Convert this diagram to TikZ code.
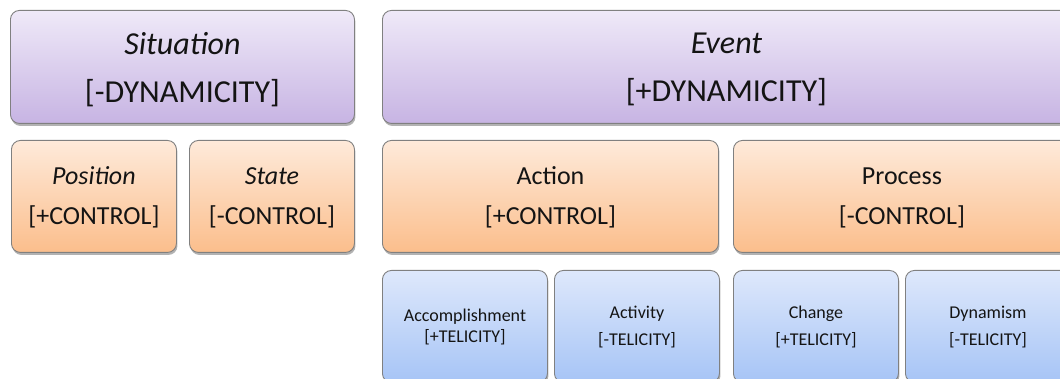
\documentclass[tikz,border=0pt]{standalone}
\usepackage{fontspec}
\setmainfont{Carlito}
\usetikzlibrary{shadows}
\definecolor{purT}{RGB}{239,233,248}
\definecolor{purB}{RGB}{199,180,227}
\definecolor{oraT}{RGB}{254,234,218}
\definecolor{oraB}{RGB}{251,190,140}
\definecolor{bluT}{RGB}{222,232,251}
\definecolor{bluB}{RGB}{166,196,246}
\definecolor{boxline}{RGB}{128,128,128}
\definecolor{txt}{RGB}{20,20,20}
\begin{document}
\begin{tikzpicture}[x=1pt,y=-1pt,
  box/.style={draw=boxline, line width=0.9pt, rounded corners=9pt, anchor=north west,
    inner sep=0pt,
    drop shadow={shadow xshift=1pt, shadow yshift=-2.5pt, opacity=0.3, fill=black}},
  lbl/.style={inner sep=0pt, align=center, text=txt},
  purbox/.style={box, top color=purT, bottom color=purB},
  orabox/.style={box, top color=oraT, bottom color=oraB},
  blubox/.style={box, top color=bluT, bottom color=bluB, minimum width=165pt, minimum height=112pt},
  purtxt/.style={lbl, font=\fontsize{32}{48}\selectfont},
  oratxt/.style={lbl, font=\fontsize{26}{40}\selectfont},
  blutxt/.style={lbl, font=\fontsize{18}{27}\selectfont},
]
\fill[white] (0,0) rectangle (1060,379);
\useasboundingbox (0,0) rectangle (1060,379);
\node[purbox, minimum width=344pt, minimum height=113pt] (sit) at (10,10) {};
\node[purbox, minimum width=688pt, minimum height=113pt] (evt) at (382,10) {};
\node[orabox, minimum width=165pt, minimum height=112pt] (pos) at (11,140) {};
\node[orabox, minimum width=165pt, minimum height=112pt] (sta) at (189,140) {};
\node[orabox, minimum width=336pt, minimum height=112pt] (act) at (382,140) {};
\node[orabox, minimum width=337pt, minimum height=112pt] (pro) at (733,140) {};
\node[blubox] (acc) at (382,270) {};
\node[blubox] (acv) at (554,270) {};
\node[blubox] (chg) at (733,270) {};
\node[blubox] (dyn) at (905,270) {};
\node[purtxt] (sitT) at ([yshift=-2.5pt]sit.center) {\textit{Situation}\\{}[-DYNAMICITY]};
\node[purtxt] (evtT) at ([yshift=-2.5pt]evt.center) {\textit{Event}\\{}[+DYNAMICITY]};
\node[oratxt] (posT) at ([yshift=-1pt]pos.center) {\textit{Position}\\{}[+CONTROL]};
\node[oratxt] (staT) at ([yshift=-1pt]sta.center) {\textit{State}\\{}[-CONTROL]};
\node[oratxt] (actT) at ([yshift=-1pt]act.center) {Action\\{}[+CONTROL]};
\node[oratxt] (proT) at ([yshift=-1pt]pro.center) {Process\\{}[-CONTROL]};
\node[blutxt, font=\fontsize{18}{21}\selectfont] (accT) at ([yshift=-1pt]acc.center) {Accomplishment\\{}[+TELICITY]};
\node[blutxt] (acvT) at ([yshift=-1pt]acv.center) {Activity\\{}[-TELICITY]};
\node[blutxt] (chgT) at ([yshift=-1pt]chg.center) {Change\\{}[+TELICITY]};
\node[blutxt] (dynT) at ([yshift=-1pt]dyn.center) {Dynamism\\{}[-TELICITY]};
\end{tikzpicture}
\end{document}
